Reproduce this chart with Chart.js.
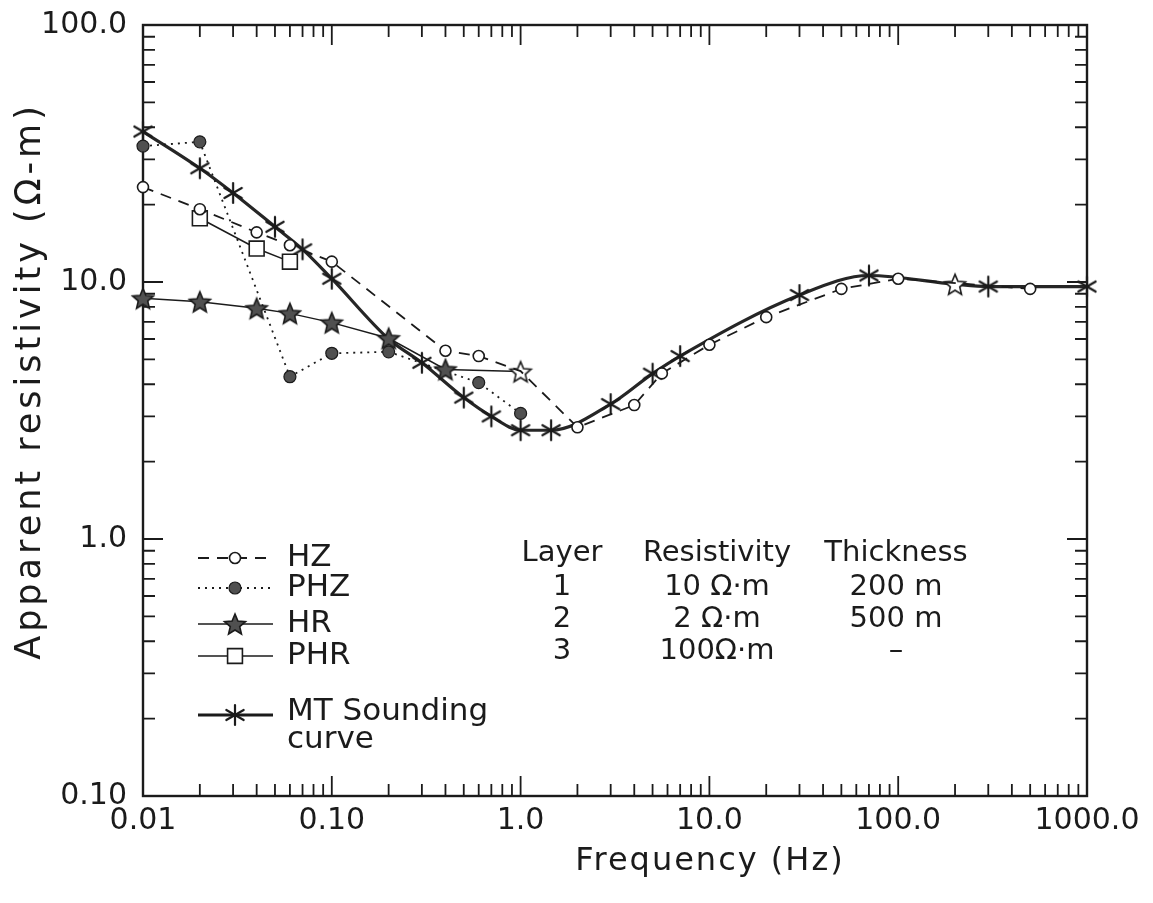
<!DOCTYPE html>
<html>
<head>
<meta charset="utf-8">
<script src="https://cdn.jsdelivr.net/npm/chart.js@4.4.1/dist/chart.umd.min.js"></script>
<style>
  html, body { margin: 0; background: #fff; }
  #wrap { width: 1153px; height: 903px; }
</style>
</head>
<body>
<div id="wrap"><canvas id="c" width="1153" height="903"></canvas></div>
<script>
/* ---------- data ---------- */
const xTicks = [0.01, 0.1, 1, 10, 100, 1000];
const xTickLabels = ['0.01', '0.10', '1.0', '10.0', '100.0', '1000.0'];
const yTicks = [0.1, 1, 10, 100];
const yTickLabels = ['0.10', '1.0', '10.0', '100.0'];

const hzFreq = [0.01, 0.02, 0.04, 0.06, 0.1, 0.4, 0.6, 1.0, 2, 4, 5.6, 10, 20, 50, 100, 500];
const hzRho  = [23.4, 19.2, 15.6, 13.9, 12.0, 5.4, 5.15, 4.5, 2.72, 3.32, 4.41, 5.7, 7.3, 9.4, 10.3, 9.4];

const phzFreq = [0.01, 0.02, 0.06, 0.1, 0.2, 0.6, 1.0];
const phzRho  = [33.8, 35.1, 4.28, 5.28, 5.35, 4.06, 3.08];

const hrFreq = [0.01, 0.02, 0.04, 0.06, 0.1, 0.2, 0.4, 1.0];
const hrRho  = [8.64, 8.38, 7.9, 7.55, 6.95, 6.04, 4.57, 4.48];

const phrFreq = [0.02, 0.04, 0.06];
const phrRho  = [17.7, 13.5, 12.0];

const mtFreq = [0.01, 0.02, 0.03, 0.05, 0.07, 0.1, 0.2, 0.3, 0.5, 0.7, 1.0, 1.45, 3, 5, 7, 30, 70, 200, 300, 1000];
const mtRho  = [38.5, 27.7, 22.2, 16.4, 13.4, 10.3, 6.0, 4.85, 3.55, 3.0, 2.65, 2.65, 3.35, 4.4, 5.15, 8.9, 10.6, 9.8, 9.6, 9.6];

const legendLabels = ['HZ', 'PHZ', 'HR', 'PHR', ['MT Sounding', 'curve']];
const tableHead = ['Layer', 'Resistivity', 'Thickness'];
const tableRows = [
  ['1', '10 Ω·m', '200 m'],
  ['2', '2 Ω·m', '500 m'],
  ['3', '100Ω·m', '–']
];

/* ---------- look ---------- */
const INK = '#1b1b1b';
const FILL = '#505050';
const FONT = "'DejaVu Sans', sans-serif";

function pts(xs, ys) { return xs.map((x, i) => ({ x, y: ys[i] })); }

// five-point star marker, filled or hollow
function makeStar(r, fill) {
  const s = Math.ceil(r * 2 + 4);
  const c = document.createElement('canvas');
  c.width = c.height = s;
  const g = c.getContext('2d');
  g.translate(s / 2, s / 2 + r * 0.1);
  g.beginPath();
  for (let i = 0; i < 10; i++) {
    const rr = i % 2 ? r * 0.45 : r;
    const a = -Math.PI / 2 + i * Math.PI / 5;
    g.lineTo(rr * Math.cos(a), rr * Math.sin(a));
  }
  g.closePath();
  g.fillStyle = fill; g.fill();
  g.lineWidth = 1.6; g.strokeStyle = INK; g.stroke();
  return c;
}

// six-armed asterisk for the MT curve
function makeAsterisk(r) {
  const s = Math.ceil(r * 2 + 4);
  const c = document.createElement('canvas');
  c.width = c.height = s;
  const g = c.getContext('2d');
  g.translate(s / 2, s / 2);
  g.strokeStyle = INK; g.lineWidth = 2.2; g.lineCap = 'round';
  [90, 30, 150].forEach(deg => {
    const a = deg * Math.PI / 180;
    g.beginPath();
    g.moveTo(-r * Math.cos(a), -r * Math.sin(a));
    g.lineTo(r * Math.cos(a), r * Math.sin(a));
    g.stroke();
  });
  return c;
}

const STAR = makeStar(11, FILL);
const STAR_OPEN = makeStar(11, '#fff');
const AST = makeAsterisk(10);

const hrStyles = hrFreq.map(f => f === 1.0 ? STAR_OPEN : STAR);
const mtStyles = mtFreq.map(f => f === 200 ? STAR_OPEN : AST);
const mtRadius = mtFreq.map(f => f === 0.2 ? 0 : 10);
const hzRadius = hzFreq.map(f => f === 1.0 ? 0 : 5.5);

const datasets = [
  { label: 'HZ', data: pts(hzFreq, hzRho), borderColor: INK, borderWidth: 1.8, borderDash: [11, 8],
    pointStyle: 'circle', pointRadius: hzRadius, pointBackgroundColor: '#fff', pointBorderColor: INK,
    pointBorderWidth: 1.6, order: 0 },
  { label: 'HR', data: pts(hrFreq, hrRho), borderColor: INK, borderWidth: 1.5,
    pointStyle: hrStyles, pointRadius: 11, order: 1 },
  { label: 'PHR', data: pts(phrFreq, phrRho), borderColor: INK, borderWidth: 1.5,
    pointStyle: 'rect', pointRadius: 10.5, pointBackgroundColor: '#fff', pointBorderColor: INK,
    pointBorderWidth: 1.6, order: 2 },
  { label: 'PHZ', data: pts(phzFreq, phzRho), borderColor: INK, borderWidth: 1.8, borderDash: [2, 5],
    pointStyle: 'circle', pointRadius: 6, pointBackgroundColor: FILL, pointBorderColor: INK,
    pointBorderWidth: 1.2, order: 3 },
  { label: 'MT', data: pts(mtFreq, mtRho), borderColor: '#262626', borderWidth: 3.2,
    cubicInterpolationMode: 'monotone', pointStyle: mtStyles, pointRadius: mtRadius, order: 4 }
];
datasets.forEach(d => { d.clip = false; d.fill = false; });

/* ---------- frame + inward log ticks on all four sides ---------- */
const framePlugin = {
  id: 'frame',
  beforeDatasetsDraw(chart) {
    const { ctx, chartArea: a, scales: { x, y } } = chart;
    ctx.save();
    ctx.strokeStyle = INK;
    ctx.lineWidth = 2.4;
    ctx.strokeRect(a.left, a.top, a.right - a.left, a.bottom - a.top);
    ctx.lineWidth = 1.8;
    const minorTicks = (lo, hi) => {
      const out = [];
      for (let d = Math.log10(lo); d < Math.log10(hi); d++)
        for (let m = 1; m < 10; m++) out.push({ v: m * Math.pow(10, d), major: m === 1 });
      return out.filter(t => t.v > lo * 1.001);
    };
    minorTicks(0.01, 1000).forEach(t => {
      const px = x.getPixelForValue(t.v), len = t.major ? 20 : 12;
      ctx.beginPath();
      ctx.moveTo(px, a.bottom); ctx.lineTo(px, a.bottom - len);
      ctx.moveTo(px, a.top); ctx.lineTo(px, a.top + len);
      ctx.stroke();
    });
    minorTicks(0.1, 100).forEach(t => {
      const py = y.getPixelForValue(t.v), len = t.major ? 20 : 12;
      ctx.beginPath();
      ctx.moveTo(a.left, py); ctx.lineTo(a.left + len, py);
      ctx.moveTo(a.right, py); ctx.lineTo(a.right - len, py);
      ctx.stroke();
    });
    ctx.restore();
  }
};

function drawMarker(ctx, ds, style, x, y) {
  ctx.save();
  if (typeof style === 'object') {
    ctx.drawImage(style, x - style.width / 2, y - style.height / 2);
  } else {
    const r = Array.isArray(ds.pointRadius) ? 5.5 : ds.pointRadius;
    ctx.fillStyle = ds.pointBackgroundColor;
    ctx.strokeStyle = ds.pointBorderColor;
    ctx.lineWidth = ds.pointBorderWidth;
    ctx.beginPath();
    if (style === 'rect') {
      const h = r / Math.SQRT2;
      ctx.rect(x - h, y - h, 2 * h, 2 * h);
    } else {
      ctx.arc(x, y, r, 0, Math.PI * 2);
    }
    ctx.fill(); ctx.stroke();
  }
  ctx.restore();
}

/* ---------- legend, layer table, axis titles ---------- */
const notesPlugin = {
  id: 'notes',
  afterDraw(chart) {
    const ctx = chart.ctx;
    const order = ['HZ', 'PHZ', 'HR', 'PHR', 'MT'];
    const rowY = [558, 588, 624, 656, 715];
    const styles = { HZ: 'circle', PHZ: 'circle', HR: STAR, PHR: 'rect', MT: AST };
    ctx.save();
    order.forEach((name, i) => {
      const ds = datasets.find(d => d.label === name);
      const yy = rowY[i];
      ctx.strokeStyle = INK;
      ctx.lineWidth = ds.borderWidth;
      ctx.setLineDash(ds.borderDash || []);
      ctx.beginPath(); ctx.moveTo(198, yy); ctx.lineTo(273, yy); ctx.stroke();
      ctx.setLineDash([]);
      drawMarker(ctx, ds, styles[name], 235, yy);
      ctx.fillStyle = INK;
      ctx.font = '31px ' + FONT;
      ctx.textAlign = 'left';
      ctx.textBaseline = 'middle';
      const lab = legendLabels[i];
      if (Array.isArray(lab)) {
        ctx.fillText(lab[0], 287, yy - 3);
        ctx.fillText(lab[1], 287, yy + 25);
      } else {
        ctx.fillText(lab, 287, yy);
      }
    });

    ctx.font = '29px ' + FONT;
    ctx.textAlign = 'center';
    const colX = [562, 717, 896];
    tableHead.forEach((h, i) => ctx.fillText(h, colX[i], 553));
    tableRows.forEach((r, j) => r.forEach((c, i) => ctx.fillText(c, colX[i], 587 + j * 32)));

    // x axis title (sits right of plot centre in the original)
    ctx.font = '32px ' + FONT;
    ctx.letterSpacing = '2px';
    ctx.fillText('Frequency (Hz)', 710, 862);

    // y axis title
    ctx.translate(31, 381);
    ctx.rotate(-Math.PI / 2);
    ctx.font = '35px ' + FONT;
    ctx.letterSpacing = '4px';
    ctx.fillText('Apparent resistivity (Ω-m)', 0, 0);
    ctx.restore();
  }
};

new Chart(document.getElementById('c'), {
  type: 'line',
  data: { datasets },
  options: {
    responsive: false,
    animation: false,
    devicePixelRatio: 1,
    layout: { padding: { top: 25, right: 66, left: 0, bottom: 0 } },
    plugins: { legend: { display: false }, tooltip: { enabled: false } },
    scales: {
      x: {
        type: 'logarithmic', min: 0.01, max: 1000,
        afterBuildTicks: s => { s.ticks = xTicks.map(v => ({ value: v })); },
        afterFit: s => { s.height = 107; s.paddingLeft = 0; s.paddingRight = 0; },
        grid: { display: false, drawTicks: false },
        border: { display: false },
        ticks: {
          color: INK, padding: 7, maxRotation: 0, autoSkip: false,
          font: { family: FONT, size: 30 },
          callback: v => xTickLabels[xTicks.indexOf(v)] ?? ''
        }
      },
      y: {
        type: 'logarithmic', min: 0.1, max: 100,
        afterBuildTicks: s => { s.ticks = yTicks.map(v => ({ value: v })); },
        afterFit: s => { s.width = 143; s.paddingTop = 0; s.paddingBottom = 0; },
        grid: { display: false, drawTicks: false },
        border: { display: false },
        ticks: {
          color: INK, padding: 16, autoSkip: false,
          font: { family: FONT, size: 30 },
          callback: v => yTickLabels[yTicks.indexOf(v)] ?? ''
        }
      }
    }
  },
  plugins: [framePlugin, notesPlugin]
});
</script>
</body>
</html>
